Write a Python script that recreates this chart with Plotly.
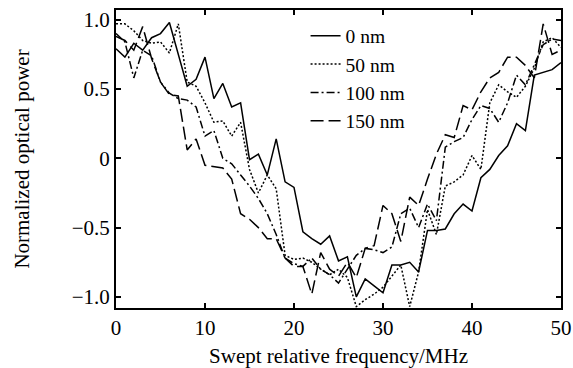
import plotly.graph_objects as go

freq = list(range(0, 51))

p0nm = [0.79, 0.73, 0.83, 0.78, 0.87, 0.90, 0.98, 0.74, 0.52, 0.57,
        0.73, 0.43, 0.54, 0.37, 0.40, -0.01, 0.03, -0.12, 0.14, -0.17,
        -0.21, -0.53, -0.58, -0.62, -0.56, -0.74, -0.71, -1.00, -0.87, -0.92,
        -0.97, -0.77, -0.77, -0.75, -0.82, -0.52, -0.52, -0.51, -0.40, -0.33,
        -0.38, -0.14, -0.08, 0.02, 0.09, 0.25, 0.20, 0.60, 0.62, 0.64,
        0.69]

p50nm = [0.97, 0.97, 0.92, 0.85, 0.83, 0.84, 0.76, 0.97, 0.55, 0.52,
         0.40, 0.26, 0.27, 0.16, 0.26, -0.08, -0.25, -0.12, -0.22, -0.70,
         -0.73, -0.72, -0.75, -0.80, -0.84, -0.80, -0.86, -1.07, -1.02, -0.98,
         -0.93, -0.85, -0.77, -1.07, -0.82, -0.37, -0.55, -0.20, -0.17, -0.12,
         0.02, -0.08, 0.40, 0.53, 0.48, 0.44, 0.52, 0.65, 0.84, 0.87,
         0.80]

p100nm = [0.90, 0.84, 0.58, 0.78, 0.74, 0.55, 0.47, 0.43, 0.42, 0.37,
          0.16, 0.20, 0.00, -0.04, -0.12, -0.20, -0.29, -0.40, -0.55, -0.72,
          -0.76, -0.78, -0.72, -0.80, -0.84, -0.90, -0.80, -0.70, -0.65, -0.66,
          -0.68, -0.64, -0.40, -0.36, -0.50, -0.33, -0.45, 0.08, 0.12, 0.15,
          0.28, 0.38, 0.36, 0.26, 0.40, 0.60, 0.53, 0.68, 0.82, 0.86,
          0.85]

p150nm = [0.88, 0.85, 0.78, 0.95, 0.72, 0.55, 0.46, 0.45, 0.06, 0.14,
          -0.05, -0.06, -0.07, -0.15, -0.40, -0.44, -0.50, -0.58, -0.58, -0.72,
          -0.78, -0.78, -0.98, -0.68, -0.80, -0.85, -0.75, -0.86, -0.65, -0.63,
          -0.34, -0.40, -0.60, -0.28, -0.34, -0.15, 0.03, 0.17, 0.15, 0.38,
          0.35, 0.48, 0.58, 0.62, 0.73, 0.73, 0.67, 0.58, 0.97, 0.75,
          0.78]

series_names = ["0 nm", "50 nm", "100 nm", "150 nm"]
series_values = [p0nm, p50nm, p100nm, p150nm]
series_dash = ["solid", "2px,2px", "8px,3px,2px,3px", "13px,5px"]

xticks = [0, 10, 20, 30, 40, 50]
yticks = [-1.0, -0.5, 0, 0.5, 1.0]
ytick_text = ["\u22121.0", "\u22120.5", "0", "0.5", "1.0"]

FONT = "Liberation Serif, Times New Roman, serif"
FS = 21

fig = go.Figure()
for i, (name, vals, dash) in enumerate(zip(series_names, series_values, series_dash)):
    fig.add_trace(go.Scatter(
        x=freq, y=vals, mode="lines", name=name,
        legendgroup=f"g{i}",
        line=dict(color="black", width=1.5, dash=dash),
    ))

fig.update_layout(
    width=573, height=368,
    margin=dict(l=116, r=12, t=10, b=60),
    paper_bgcolor="white", plot_bgcolor="white",
    font=dict(family=FONT, size=FS, color="black"),
    showlegend=True,
    legend=dict(
        x=0.426, y=0.978, xanchor="left", yanchor="top",
        bgcolor="rgba(0,0,0,0)", borderwidth=0,
        font=dict(family=FONT, size=19.5, color="black"),
        tracegroupgap=0,
    ),
)

fig.update_xaxes(
    range=[0, 50], tickvals=xticks, ticktext=[str(t) for t in xticks],
    ticks="inside", ticklen=5, tickwidth=1.5, tickcolor="black",
    showline=True, linecolor="black", linewidth=2, mirror="ticks",
    showgrid=False, zeroline=False, ticklabeloverflow="allow",
    automargin=False,
    title=dict(text="Swept relative frequency/MHz", standoff=10,
               font=dict(family=FONT, size=FS)),
    tickfont=dict(family=FONT, size=FS),
)
fig.update_yaxes(
    range=[-1.08, 1.07], tickvals=yticks, ticktext=ytick_text,
    ticks="inside", ticklen=5, tickwidth=1.5, tickcolor="black",
    showline=True, linecolor="black", linewidth=2, mirror="ticks",
    showgrid=False, zeroline=False, automargin=False,
    title=dict(text="Normalized optical power", standoff=36,
               font=dict(family=FONT, size=FS)),
    tickfont=dict(family=FONT, size=FS),
)

fig.write_html("out.html")
